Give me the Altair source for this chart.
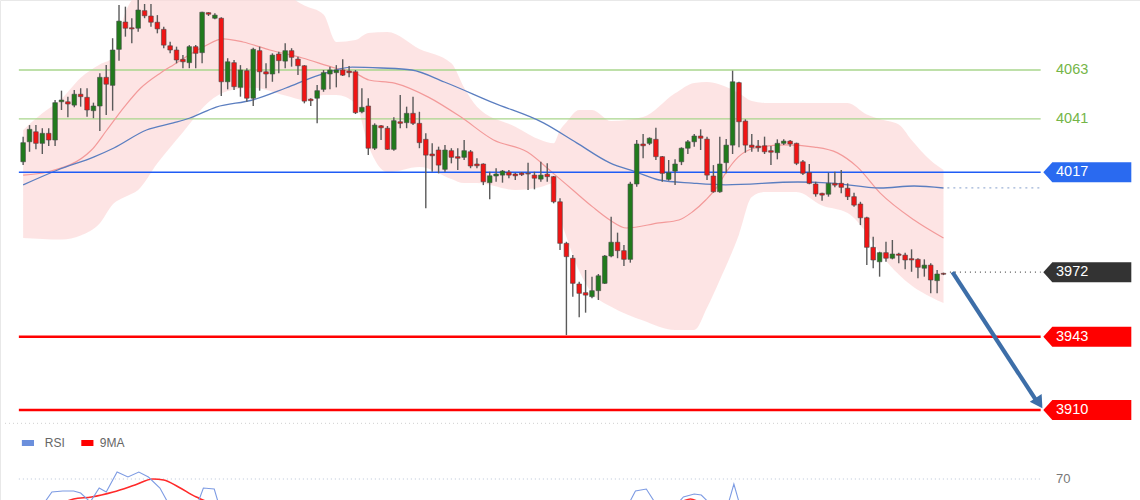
import altair as alt
import pandas as pd

# ---------------- candle data (price units) ----------------
OPEN = [4021.7, 4030.7, 4035.2, 4030, 4034.5, 4031.5, 4048.7, 4048.7, 4047.2, 4052.1,
        4050.7, 4044.7, 4046.8, 4059.7, 4056.1, 4072.3, 4084.6, 4082, 4081.8, 4089.7,
        4087.3, 4084.5, 4081.3, 4073.9, 4072, 4067.8, 4066.3, 4073.5, 4070.8, 4088.8,
        4086.3, 4086.3, 4057.7, 4066.3, 4055.2, 4062.7, 4050.3, 4071.7, 4062.2, 4061.2,
        4070.2, 4067, 4071.7, 4067.9, 4064.9, 4049.9, 4050.3, 4054.3, 4061.2, 4061.8,
        4063, 4062.5, 4062.2, 4044.2, 4046.8, 4027.8, 4037.9, 4036.8, 4027.3, 4039.7,
        4039.3, 4043.5, 4039, 4031.8, 4025.2, 4027, 4018.3, 4026.7, 4024, 4023.7,
        4026.2, 4020.7, 4020.7, 4012.3, 4015.3, 4015.7, 4017, 4016.2, 4016.6, 4016.5,
        4015.7, 4013.9, 4016.1, 4015, 4003.7, 3985, 3978.3, 3966.7, 3962.8, 3961,
        3963.7, 3967, 3979.3, 3985.5, 3981.7, 3977.8, 4011.7, 4029.7, 4030, 4031.8,
        4024, 4013.8, 4017.5, 4021.7, 4027.8, 4030.7, 4033.3, 4031.9, 4015.3, 4008.2,
        4021.3, 4029.2, 4057.3, 4040, 4029.2, 4028.8, 4028.9, 4026.7, 4025.8, 4030,
        4031, 4030, 4021.7, 4016.8, 4011.7, 4007.5, 4007.1, 4012, 4012, 4009.8,
        4006, 4002.7, 3996.5, 3983.2, 3976.7, 3980.8, 3978.3, 3980.2, 3979.7, 3978.1,
        3977.8, 3973.8, 3975.2, 3968.2, 3971.5]
HIGH = [4033, 4038.2, 4038.2, 4036.8, 4036.8, 4049.5, 4053.7, 4051, 4054, 4054.8,
        4054.8, 4048.3, 4061.5, 4065.2, 4077.3, 4092.2, 4091.5, 4086.3, 4094.5, 4092.7,
        4092.7, 4087.7, 4082.5, 4075.7, 4073.5, 4069.7, 4074.2, 4074.2, 4089.2, 4089,
        4088.5, 4086.7, 4068.3, 4067.5, 4065.2, 4063.8, 4073, 4073.5, 4066, 4070.5,
        4071.2, 4075, 4072.8, 4069, 4065.2, 4050.3, 4056.2, 4063, 4064.5, 4065.2,
        4067.8, 4064.8, 4063, 4054.8, 4050.3, 4039, 4038.2, 4037.8, 4041.7, 4051.7,
        4046.5, 4051, 4044.2, 4034.5, 4030, 4028.5, 4029.2, 4027.8, 4027.8, 4031.5,
        4027, 4023.3, 4021, 4017.2, 4018.8, 4018, 4018, 4016.8, 4017.1, 4021.3,
        4017.2, 4021.7, 4021, 4015.3, 4005.3, 3985.7, 3979.7, 3967.7, 3973, 3970,
        3971.2, 3979.7, 3997, 3989.8, 3984.2, 4012.7, 4031.5, 4034.2, 4032.7, 4037,
        4024.3, 4022.5, 4022.8, 4028.2, 4031.5, 4034.2, 4036.3, 4033, 4020.2, 4033,
        4031.9, 4062.7, 4057.7, 4040.8, 4034.2, 4031.5, 4033, 4028.8, 4031.8, 4031.8,
        4031.5, 4030.3, 4022.5, 4020.7, 4012.7, 4007.8, 4016.8, 4017.2, 4018, 4012,
        4007.8, 4003.7, 3997, 3988, 3981.2, 3985.7, 3986.5, 3980.8, 3980.8, 3982.3,
        3978.3, 3977.8, 3976, 3973, 3971.8]
LOW = [4020.2, 4026.2, 4027.3, 4025.2, 4028.8, 4028.8, 4045, 4041.7, 4046.2, 4046.5,
       4042, 4041.3, 4035.5, 4042.7, 4044.7, 4067.2, 4078, 4075, 4080.2, 4086.3,
       4082.5, 4079.5, 4072.8, 4070.5, 4066, 4063.8, 4063.8, 4063.8, 4066, 4087.3,
       4085.8, 4051.3, 4054.3, 4054, 4051, 4048.7, 4046.8, 4053.7, 4054.8, 4057.7,
       4061.5, 4063.8, 4064.5, 4060.7, 4048, 4046.8, 4039, 4053.2, 4054.3, 4055.2,
       4060.3, 4059.7, 4043.2, 4043.5, 4024.7, 4027, 4031.5, 4027, 4026.7, 4036.8,
       4036.8, 4038.2, 4027.8, 4000.8, 4017.2, 4016.5, 4017.2, 4021, 4018, 4022.5,
       4018.8, 4018.8, 4011.2, 4004.8, 4012.7, 4012.3, 4014.3, 4013.5, 4015.3, 4009,
       4009.3, 4012.7, 4012.7, 4003, 3982, 3943.7, 3961, 3951.7, 3953.8, 3960.3,
       3959.5, 3966.7, 3978.7, 3978.3, 3974.8, 3976.3, 4010.5, 4023.3, 4029.2, 4022.5,
       4012.7, 4013.2, 4011.2, 4020.2, 4025.2, 4028.5, 4027, 4013.5, 4007.8, 4007.8,
       4016.5, 4025.2, 4028.2, 4025.8, 4026.2, 4026.2, 4025.2, 4020.2, 4022.8, 4029.2,
       4028.5, 4020.2, 4015.7, 4011.6, 4006, 4004.2, 4006, 4010.2, 4007.5, 4004.5,
       4001.5, 3993.2, 3975.2, 3973.8, 3970, 3976.7, 3977.8, 3976, 3973.3, 3972.2,
       3969.3, 3970, 3962.5, 3962.5, 3970.7]
CLOSE = [4030.3, 4036.3, 4030, 4034.5, 4031.5, 4048.3, 4049.5, 4047.7, 4052.1, 4051,
         4045, 4046.8, 4059.7, 4056.6, 4072, 4085, 4081.8, 4081.5, 4090, 4087.4,
         4084.5, 4081.5, 4074.2, 4072, 4067.5, 4066.7, 4073.5, 4070.5, 4089, 4088.1,
         4087.7, 4057.7, 4066.7, 4055.5, 4063, 4050.3, 4072.3, 4062.2, 4061.2, 4069.7,
         4067.2, 4071.7, 4068.7, 4064.9, 4049, 4049.2, 4053.7, 4061.8, 4063, 4063,
         4060.7, 4061.8, 4043.8, 4046.2, 4027.8, 4038.2, 4037, 4027.3, 4040.2, 4039,
         4043.5, 4039, 4030.3, 4024.7, 4024.4, 4020.2, 4027, 4023.7, 4023.3, 4026.7,
         4019.8, 4019.9, 4012.7, 4015.4, 4016.2, 4017.5, 4015.7, 4015.4, 4015.9, 4016.2,
         4014.3, 4015.7, 4015, 4003.7, 3985, 3979, 3967, 3962.5, 3961.7, 3963.7,
         3970.4, 3979.3, 3985.5, 3981.7, 3977.8, 4011.7, 4029.7, 4028.9, 4032.3, 4024,
         4016.5, 4016.8, 4020.7, 4027.8, 4030.7, 4033.3, 4032.3, 4015.7, 4008.2, 4020.7,
         4029.2, 4057.7, 4039.7, 4029.2, 4028.2, 4028, 4026.2, 4026, 4030, 4031,
         4029.7, 4021, 4016.5, 4012, 4007.2, 4006.7, 4012, 4011.2, 4010.2, 4006,
         4002.2, 3996.5, 3983.2, 3977.5, 3980.8, 3978.3, 3980.2, 3979.6, 3977.5, 3977.5,
         3974.2, 3975.2, 3968.5, 3971.2, 3971.1]

# ---------------- indicator readings ----------------
BAND_X = [1, 4, 7, 10, 13, 15, 17, 19, 22, 26, 30, 33, 37, 42, 45, 48, 50, 53, 55, 58,
          63, 68, 70, 72, 78, 82, 84, 85, 86, 88, 90, 93, 98, 103, 106, 108, 110, 113, 115,
          117, 122, 126, 130, 133, 135, 138, 140, 143, 145]
BAND_UP = [4036, 4043.5, 4050, 4059.5, 4065.5, 4068.5, 4089, 4098, 4103.5, 4103.5, 4103.5,
           4103, 4101.3, 4097, 4092, 4088, 4075.6, 4076.5, 4079.7, 4080.1, 4072.5, 4066,
           4055, 4046.5, 4037.5, 4031.5, 4030, 4036, 4039.5, 4045, 4045, 4040, 4041.8,
           4052.5, 4057.2, 4057.6, 4056.5, 4052.5, 4049, 4048.2, 4048.2, 4048.2, 4048.2,
           4043, 4041, 4038.5, 4031.5, 4022.3, 4018]
BAND_LO = [3987.4, 3987, 3986.7, 3988.5, 3994, 4002.5, 4006, 4009, 4021, 4035, 4048.5,
           4053.5, 4055, 4051.5, 4049.5, 4051.8, 4051.8, 4048, 4029, 4017, 4019.4, 4014,
           4012.1, 4012.1, 4009, 4010.3, 4012, 3997, 3988, 3972.5, 3962.7, 3956.5, 3950.3,
           3946, 3946, 3956, 3968.5, 3989, 4005.9, 4008.1, 4008.1, 4002, 3998.6, 3989.5,
           3980.7, 3971, 3966, 3960.8, 3958.1]

MA_RED_X = [1, 4.8, 11.7, 14.1, 16.8, 19.4, 22.5, 24.5, 29.2, 32.3, 35.4, 39.6, 44.7, 49.8,
            52.9, 55.1, 59.1, 64.4, 69.5, 74.6, 79.9, 83.9, 87.0, 90.1, 92.8, 95.4, 100.5,
            103.6, 105.7, 107.8, 109.8, 110.9, 112.9, 115.5, 120.2, 124.8, 128.4, 131.5,
            135.1, 140.4, 145]
MA_RED = [4015.7, 4017.1, 4027, 4036, 4046.3, 4054.9, 4061.7, 4065.3, 4073.4, 4077, 4075.6,
          4072, 4068.4, 4063.9, 4061.7, 4058.5, 4057.1, 4050.8, 4041.8, 4031.5, 4026.1,
          4016.6, 4009, 4001.4, 3995.5, 3991.9, 3994.2, 3995.5, 3999.1, 4004.5, 4011.3,
          4016.6, 4023.9, 4027.9, 4029.3, 4028.3, 4025.7, 4019.4, 4007.6, 3995.5, 3987.4]

MA_BLUE_X = [1, 6.4, 12.1, 15.2, 20.3, 24.5, 27.1, 31.2, 36.9, 42.1, 47.3, 52.5, 57.1, 61.8,
             66.9, 74.6, 82.4, 87.6, 92.8, 96.9, 100.5, 105.7, 110.9, 122.2, 127.4, 135.1,
             140.4, 145]
MA_BLUE = [4011.3, 4018, 4023.9, 4027.9, 4036, 4039.2, 4041.4, 4046.3, 4049.5, 4054.9,
           4060.7, 4064.3, 4063.9, 4063, 4057.6, 4048.2, 4039.2, 4030.2, 4021.2, 4017.1,
           4013.5, 4012.1, 4011.3, 4012.6, 4012.1, 4009.9, 4010.8, 4009.9]

RSI_X = [4.4, 5.5, 7.2, 8.9, 10.0, 11.5, 12.9, 14.0, 15.7, 17.4, 19.1, 20.6, 22.4, 23.6,
         28.4, 29.2, 30.9, 31.5, 95.9, 96.8, 98.5, 99.8, 103.6, 104.3, 106.0, 107.1,
         108.2, 111.4, 112.2, 113.0]
RSI = [47, 57, 58, 58, 56, 47, 61, 57, 77, 72, 77, 72, 61, 47, 47, 61, 60, 47, 47, 58,
       60, 47, 47, 52, 55, 54, 47, 47, 65, 47]
RSI_MA_X = [7.5, 8.9, 11.7, 15.1, 18.5, 21.3, 23.0, 25.3, 28.1, 30.3, 103.6, 105.4, 106.7]
RSI_MA = [47, 50, 52, 57, 64, 70, 69, 62, 52, 47, 47, 50, 47]

# ---------------- levels / annotations ----------------
GREEN_LEVELS = [4063, 4041]
BLUE_LEVEL = 4017
RED_LEVELS = [3943, 3910]
TAG_VALUES = [4017, 3972, 3943, 3910]
TAG_TEXT = ["4017", "3972", "3943", "3910"]
LAST_PRICE = 3972
BLUE_MA_LAST = 4010
RSI_LEVEL = 70
ARROW_X = [146.4, 159.5]
ARROW_Y = [3972, 3914.3]
ARROW_HEAD = (159.95, 3913.1)

# positions along the index axis
LINE_START, LINE_END = 0.33, 160.2
LABEL_X = 162.6
TAG_X = 167.5

XDOM = [-1.838, 174.96]
PDOM = [3869.5, 4094.5]
RDOM = [49, 549]
FONT = "Liberation Sans"


def X(f="i"):
    return alt.X(f"{f}:Q", scale=alt.Scale(domain=XDOM, nice=False, zero=False), axis=None)


def YP(f):
    return alt.Y(f"{f}:Q", scale=alt.Scale(domain=PDOM, nice=False, zero=False), axis=None)


def YR(f):
    return alt.Y(f"{f}:Q", scale=alt.Scale(domain=RDOM, nice=False, zero=False), axis=None)


N = len(OPEN)
candles = pd.DataFrame({
    "i": list(range(1, N + 1)), "o": OPEN, "h": HIGH, "l": LOW, "c": CLOSE,
})
candles["dir"] = ["up" if c >= o else "down" for o, c in zip(OPEN, CLOSE)]

band = pd.DataFrame({"i": BAND_X, "up": BAND_UP, "lo": BAND_LO})
ma_red = pd.DataFrame({"i": MA_RED_X, "v": MA_RED})
ma_blue = pd.DataFrame({"i": MA_BLUE_X, "v": MA_BLUE})
rsi = pd.DataFrame({"i": RSI_X, "v": RSI})
rsi_ma = pd.DataFrame({"i": RSI_MA_X, "v": RSI_MA})

layers = []

# Bollinger band
layers.append(alt.Chart(band).mark_area(color="#fcd9d9", opacity=0.7, interpolate="monotone", clip=True)
              .encode(x=X(), y=YP("up"), y2=alt.Y2("lo:Q")))

# panel separator (dotted)
sep = pd.DataFrame({"a": [XDOM[0]], "b": [LINE_END], "p": [3904]})
layers.append(alt.Chart(sep).mark_rule(color="#d0d0d0", strokeDash=[1, 3], strokeWidth=1)
              .encode(x=X("a"), x2=alt.X2("b:Q"), y=YP("p")))

# green + blue levels
glev = pd.DataFrame({"a": LINE_START, "b": LINE_END, "p": GREEN_LEVELS})
layers.append(alt.Chart(glev).mark_rule(color="#a9d68c", strokeWidth=1.3)
              .encode(x=X("a"), x2=alt.X2("b:Q"), y=YP("p")))

# moving averages
layers.append(alt.Chart(ma_red).mark_line(color="#f39a9a", strokeWidth=1.2, interpolate="monotone", clip=True)
              .encode(x=X(), y=YP("v")))
layers.append(alt.Chart(ma_blue).mark_line(color="#5b7ec0", strokeWidth=1.3, interpolate="monotone", clip=True)
              .encode(x=X(), y=YP("v")))

blev = pd.DataFrame({"a": [LINE_START], "b": [LINE_END], "p": [BLUE_LEVEL]})
layers.append(alt.Chart(blev).mark_rule(color="#1f5cf5", strokeWidth=1.5)
              .encode(x=X("a"), x2=alt.X2("b:Q"), y=YP("p")))

# dotted extensions
ext = pd.DataFrame({"a": [145.6], "b": [LINE_END], "p": [BLUE_MA_LAST]})
layers.append(alt.Chart(ext).mark_rule(color="#9db2d6", strokeDash=[2, 4], strokeWidth=1.2)
              .encode(x=X("a"), x2=alt.X2("b:Q"), y=YP("p")))
ext2 = pd.DataFrame({"a": [146.0], "b": [LINE_END], "p": [LAST_PRICE]})
layers.append(alt.Chart(ext2).mark_rule(color="#555555", strokeDash=[1, 4], strokeWidth=1.2)
              .encode(x=X("a"), x2=alt.X2("b:Q"), y=YP("p")))

# candles
layers.append(alt.Chart(candles).mark_rule(color="#5a5a5a", strokeWidth=1.4)
              .encode(x=X(), y=YP("l"), y2=alt.Y2("h:Q")))
layers.append(alt.Chart(candles).mark_bar(size=4.6, stroke="#4a4a4a", strokeWidth=0.6)
              .encode(x=X(), y=YP("o"), y2=alt.Y2("c:Q"),
                      color=alt.Color("dir:N", scale=alt.Scale(domain=["up", "down"],
                                                               range=["#217a1c", "#f01414"]),
                                      legend=None)))

# red support levels
rlev = pd.DataFrame({"a": LINE_START, "b": LINE_END, "p": RED_LEVELS})
layers.append(alt.Chart(rlev).mark_rule(color="#ff0000", strokeWidth=2.5)
              .encode(x=X("a"), x2=alt.X2("b:Q"), y=YP("p")))

# arrow
arrow = pd.DataFrame({"i": ARROW_X, "p": ARROW_Y})
layers.append(alt.Chart(arrow).mark_line(color="#3d6ea8", strokeWidth=4.2)
              .encode(x=X(), y=YP("p")))
head = pd.DataFrame({"i": [ARROW_HEAD[0]], "p": [ARROW_HEAD[1]]})
layers.append(alt.Chart(head).mark_point(shape="triangle-up", angle=147, size=200, filled=True,
                                         color="#3d6ea8", opacity=1)
              .encode(x=X(), y=YP("p")))

# green level labels
gl = pd.DataFrame({"i": LABEL_X, "p": GREEN_LEVELS, "t": [str(v) for v in GREEN_LEVELS]})
layers.append(alt.Chart(gl).mark_text(align="left", baseline="middle", color="#74b548",
                                      fontSize=14.5, font=FONT)
              .encode(x=X(), y=YP("p"), text="t:N"))

# price tags
TAG_PATH = "M-1,0 L-0.795,-0.227 L1,-0.227 L1,0.227 L-0.795,0.227 Z"
tags = pd.DataFrame({"i": TAG_X, "ti": LABEL_X, "p": TAG_VALUES, "t": TAG_TEXT,
                     "k": ["blue", "dark", "red", "red2"]})
layers.append(alt.Chart(tags).mark_point(shape=TAG_PATH, size=7744, filled=True, opacity=1,
                                         strokeWidth=0)
              .encode(x=X(), y=YP("p"),
                      color=alt.Color("k:N", scale=alt.Scale(domain=["blue", "dark", "red", "red2"],
                                                             range=["#2a6af0", "#333333", "#ff0000", "#ff0000"]),
                                      legend=None)))
layers.append(alt.Chart(tags).mark_text(align="left", baseline="middle", color="white",
                                        fontSize=14.5, font=FONT)
              .encode(x=X("ti"), y=YP("p"), text="t:N"))

# ---------------- RSI panel ----------------
r70 = pd.DataFrame({"a": [LINE_START], "b": [LINE_END], "v": [RSI_LEVEL], "ti": [LABEL_X], "t": ["70"]})
layers.append(alt.Chart(r70).mark_rule(color="#b8c4d8", strokeDash=[1, 3], strokeWidth=1)
              .encode(x=X("a"), x2=alt.X2("b:Q"), y=YR("v")))
layers.append(alt.Chart(r70).mark_text(align="left", baseline="middle", color="#777777",
                                       fontSize=13, font=FONT)
              .encode(x=X("ti"), y=YR("v"), text="t:N"))
layers.append(alt.Chart(rsi_ma).mark_line(color="#ff2a2a", strokeWidth=1.6, interpolate="monotone", clip=True)
              .encode(x=X(), y=YR("v")))
layers.append(alt.Chart(rsi).mark_line(color="#7d9be3", strokeWidth=1.1, clip=True)
              .encode(x=X(), y=YR("v")))

leg = pd.DataFrame({"a": [0.8, 10.1], "b": [2.7, 12.0], "y1": [109, 109], "y2": [103, 103],
                    "k": ["RSI", "9MA"], "tx": [4.4, 13.0], "ty": [106, 106]})
layers.append(alt.Chart(leg).mark_rect()
              .encode(x=X("a"), x2=alt.X2("b:Q"), y=YR("y1"), y2=alt.Y2("y2:Q"),
                      color=alt.Color("k:N", scale=alt.Scale(domain=["RSI", "9MA"],
                                                             range=["#6b8fdc", "#ff0000"]),
                                      legend=None)))
layers.append(alt.Chart(leg).mark_text(align="left", baseline="middle", color="#666666",
                                       fontSize=12, font=FONT)
              .encode(x=X("tx"), y=YR("ty"), text="k:N"))

chart = (alt.layer(*layers)
         .resolve_scale(y="independent", color="independent")
         .properties(width=1140, height=500, autosize="none", padding=0, background="white")
         .configure_view(stroke="#e8e8e8"))

chart.save("out.html", embed_options={"renderer": "svg", "actions": False})
